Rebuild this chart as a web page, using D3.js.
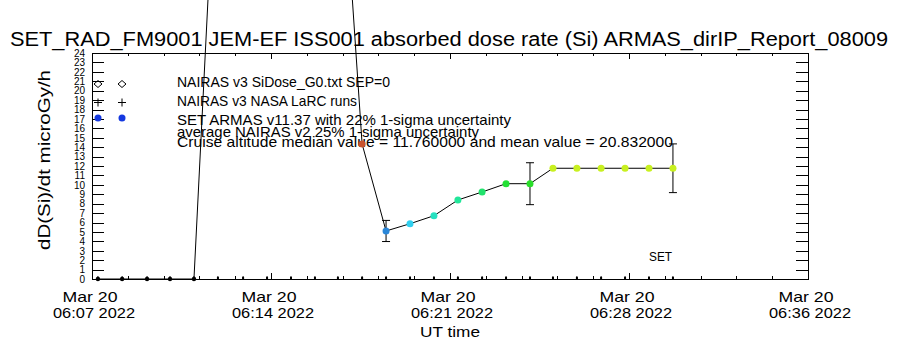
<!DOCTYPE html>
<html><head><meta charset="utf-8">
<script src="https://cdn.jsdelivr.net/npm/d3@7"></script>
<style>
html,body{margin:0;padding:0;background:#fff;}
svg text{font-family:"Liberation Sans","DejaVu Sans",sans-serif;font-weight:normal;fill:#000;}
</style></head>
<body><svg id="c" width="900" height="350"></svg>
<script>
// ---- data (minutes after 06:07:00 UT, 20 Mar 2022) ----
const times = [0.24,1.22,2.23,3.16,4.13,5.10,6.12,7.09,8.06,9.03,9.96,10.94,11.91,12.88,13.85,14.82,15.80,16.77,17.74,18.67,19.64,20.62,21.59,22.56,23.53];
const armasDose = [0,0,0,0,0,50.7,62,70,72,73,52.4,14.34,5.10,5.87,6.72,8.39,9.24,10.12,10.12,11.76,11.76,11.76,11.76,11.76,11.76];
const armasColors = ["#000","#000","#000","#000","#000","#b02020","#b02020","#b02020","#b02020","#b02020","#b02020","#c8532e","#2a86d8","#30cfef","#26e0c0","#22e69a","#22e26c","#22e034","#2ade2a","#c8f020","#c8f020","#c8f020","#c8f020","#c8f020","#c8f020"];
const errorIdx = [12,18,24];
const sigma = 0.22;
const nairasDose = times.map(()=>0);
const yTickValues = d3.range(0,25);
const xTickValues = [0,7.25,14.5,21.75,29];
const xTickLabels = [["Mar 20","06:07 2022"],["Mar 20","06:14 2022"],["Mar 20","06:21 2022"],["Mar 20","06:28 2022"],["Mar 20","06:36 2022"]];
const titleText = "SET_RAD_FM9001  JEM-EF ISS001 absorbed dose rate (Si) ARMAS_dirIP_Report_08009";
const legendTexts = ["NAIRAS v3 SiDose_G0.txt SEP=0","NAIRAS v3 NASA LaRC runs","SET ARMAS v11.37 with 22% 1-sigma uncertainty","average NAIRAS v2 25% 1-sigma uncertainty","Cruise altitude median value = 11.760000 and mean value = 20.832000"];

const svg = d3.select("#c");
const L=92,R=808,T=53,B=279;
const x = d3.scaleLinear().domain([0,29]).range([L,R]);
const y = d3.scaleLinear().domain([0,24]).range([B,T]);

// frame
svg.append("rect").attr("x",L).attr("y",T).attr("width",R-L).attr("height",B-T)
  .attr("fill","none").attr("stroke","#000").attr("stroke-width",1).attr("shape-rendering","crispEdges");

function styleAxis(g){g.select(".domain").remove();g.selectAll("line").attr("stroke","#000").attr("shape-rendering","crispEdges");g.selectAll("text").remove();}
const minorX = d3.range(0,29.001,29/20);
svg.append("g").attr("transform",`translate(0,${B})`).call(d3.axisTop(x).tickValues(minorX).tickSize(3)).call(styleAxis);
svg.append("g").attr("transform",`translate(0,${B})`).call(d3.axisTop(x).tickValues(xTickValues).tickSize(6)).call(styleAxis);
svg.append("g").attr("transform",`translate(0,${T})`).call(d3.axisBottom(x).tickValues(minorX).tickSize(3)).call(styleAxis);
svg.append("g").attr("transform",`translate(0,${T})`).call(d3.axisBottom(x).tickValues(xTickValues).tickSize(6)).call(styleAxis);
svg.append("g").attr("transform",`translate(${L},0)`).call(d3.axisRight(y).tickValues(yTickValues).tickSize(12)).call(styleAxis);
svg.append("g").attr("transform",`translate(${R},0)`).call(d3.axisLeft(y).tickValues(yTickValues).tickSize(12)).call(styleAxis);

// y tick labels
svg.append("g").selectAll("text").data(yTickValues).join("text")
  .attr("transform",d=>`translate(85,${y(d)}) scale(1,1.05)`)
  .attr("dy","0.36em").attr("text-anchor","end").attr("font-size",10).text(d=>d);

// x tick labels
const xl = svg.append("g").selectAll("g").data(xTickValues).join("g");
xl.append("text").attr("x",d=>x(d)-2).attr("y",302).attr("text-anchor","middle").attr("font-size",15)
  .attr("textLength",55).attr("lengthAdjust","spacingAndGlyphs").text((d,i)=>xTickLabels[i][0]);
xl.append("text").attr("x",d=>x(d)+2).attr("y",318).attr("text-anchor","middle").attr("font-size",15)
  .attr("textLength",82).attr("lengthAdjust","spacingAndGlyphs").text((d,i)=>xTickLabels[i][1]);

// titles
svg.append("text").attr("x",10).attr("y",46).attr("font-size",20).attr("textLength",878)
  .attr("lengthAdjust","spacingAndGlyphs").text(titleText);
svg.append("text").attr("x",450).attr("y",337).attr("text-anchor","middle").attr("font-size",15)
  .attr("textLength",60).attr("lengthAdjust","spacingAndGlyphs").text("UT time");
svg.append("text").attr("transform","translate(50,160) rotate(-90)").attr("text-anchor","middle").attr("font-size",16)
  .attr("textLength",180).attr("lengthAdjust","spacingAndGlyphs").text("dD(Si)/dt microGy/h");
svg.append("text").attr("x",649).attr("y",261).attr("font-size",13)
  .attr("textLength",23).attr("lengthAdjust","spacingAndGlyphs").text("SET");

// legend
const legY=[87,106,125,137,147], legW=[213,180,334,302,496];
svg.append("g").selectAll("text").data(legendTexts).join("text")
  .attr("x",177).attr("y",(d,i)=>legY[i]).attr("font-size",15)
  .attr("textLength",(d,i)=>legW[i]).attr("lengthAdjust","spacingAndGlyphs").text(d=>d);
[98,122].forEach(cx=>{
  svg.append("path").attr("d",`M${cx-4},84 L${cx},80.5 L${cx+4},84 L${cx},87.5 Z`).attr("fill","none").attr("stroke","#000");
  svg.append("path").attr("d",`M${cx-4},102.5 H${cx+4} M${cx},98.5 V106.5`).attr("stroke","#000");
  svg.append("circle").attr("cx",cx).attr("cy",118).attr("r",3.5).attr("fill","#1438e0");
});

// NAIRAS zero-level points
svg.append("g").selectAll("path").data(times).join("path")
  .attr("d",(d,i)=>`M${x(d)},${y(nairasDose[i])} v-3`).attr("stroke","#000");
svg.append("g").selectAll("rect").data(times).join("rect")
  .attr("x",d=>x(d)-1).attr("y",(d,i)=>y(nairasDose[i])-2).attr("width",2).attr("height",2).attr("fill","#000");

// ARMAS line (not clipped, like the reference)
const line = d3.line().x((d,i)=>x(times[i])).y(d=>y(d));
svg.append("path").datum(armasDose).attr("d",line).attr("fill","none").attr("stroke","#000").attr("stroke-width",1);

// error bars
const eb = svg.append("g").attr("stroke","#000");
errorIdx.forEach(i=>{
  const cx=x(times[i]), v=armasDose[i], lo=y(v*(1-sigma)), hi=y(v*(1+sigma));
  eb.append("path").attr("d",`M${cx},${lo} V${hi} M${cx-4},${lo} H${cx+4} M${cx-4},${hi} H${cx+4}`).attr("fill","none");
});

// ARMAS points
svg.append("g").selectAll("circle").data(armasDose).join("circle")
  .attr("cx",(d,i)=>x(times[i])).attr("cy",d=>y(d)).attr("r",(d,i)=>d===0?2.2:3.5)
  .attr("fill",(d,i)=>armasColors[i]);
</script></body></html>
